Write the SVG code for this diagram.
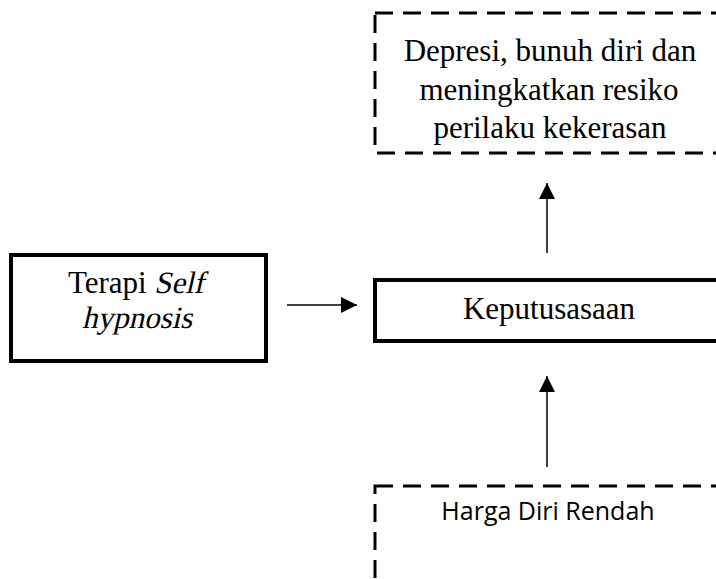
<svg xmlns="http://www.w3.org/2000/svg" width="716" height="579" viewBox="0 0 716 579">
<style>
.solid{fill:#fff;stroke:#000;stroke-width:4}
.dash{fill:none;stroke:#000;stroke-width:3;stroke-dasharray:18 10}
.serif{font-family:"Liberation Serif","DejaVu Serif",serif;font-size:31px;fill:#000;text-anchor:middle}
.left{text-anchor:start}
.sans{font-family:"Open Sans","Noto Sans",sans-serif;font-size:25px;fill:#000;text-anchor:middle}
.conn{stroke:#000;stroke-width:1.5;fill:none}
</style>
<defs>
<marker id="ah" viewBox="0 0 16 16" refX="16" refY="8" markerWidth="16" markerHeight="16" markerUnits="userSpaceOnUse" orient="auto">
<path d="M0,0 L16,8 L0,16 Z" fill="#000"/>
</marker>
</defs>
<g id="node-depresi">
<rect class="dash" x="375" y="13" width="360" height="140"/>
<text class="serif" x="550" y="61">Depresi, bunuh diri dan</text>
<text class="serif" x="549" y="100">meningkatkan resiko</text>
<text class="serif" x="550" y="138">perilaku kekerasan</text>
</g>
<g id="node-terapi">
<rect class="solid" x="11" y="255" width="255" height="106"/>
<text class="serif left" x="68" y="293">Terapi </text>
<text class="serif left" transform="translate(154,293) skewX(-13)" x="0" y="0">Self</text>
<text class="serif" transform="translate(137,328) skewX(-13)" x="0" y="0">hypnosis</text>
</g>
<g id="node-keputusasaan">
<rect class="solid" x="375" y="280" width="360" height="61"/>
<text class="serif" x="549" y="319">Keputusasaan</text>
</g>
<g id="node-harga">
<rect class="dash" x="375" y="486" width="360" height="120"/>
<text class="sans" x="548" y="520">Harga Diri Rendah</text>
</g>
<g id="connectors">
<line class="conn" x1="287" y1="305" x2="357" y2="305" marker-end="url(#ah)"/>
<line class="conn" x1="547" y1="253" x2="547" y2="183" marker-end="url(#ah)"/>
<line class="conn" x1="547" y1="467" x2="547" y2="376" marker-end="url(#ah)"/>
</g>
</svg>
